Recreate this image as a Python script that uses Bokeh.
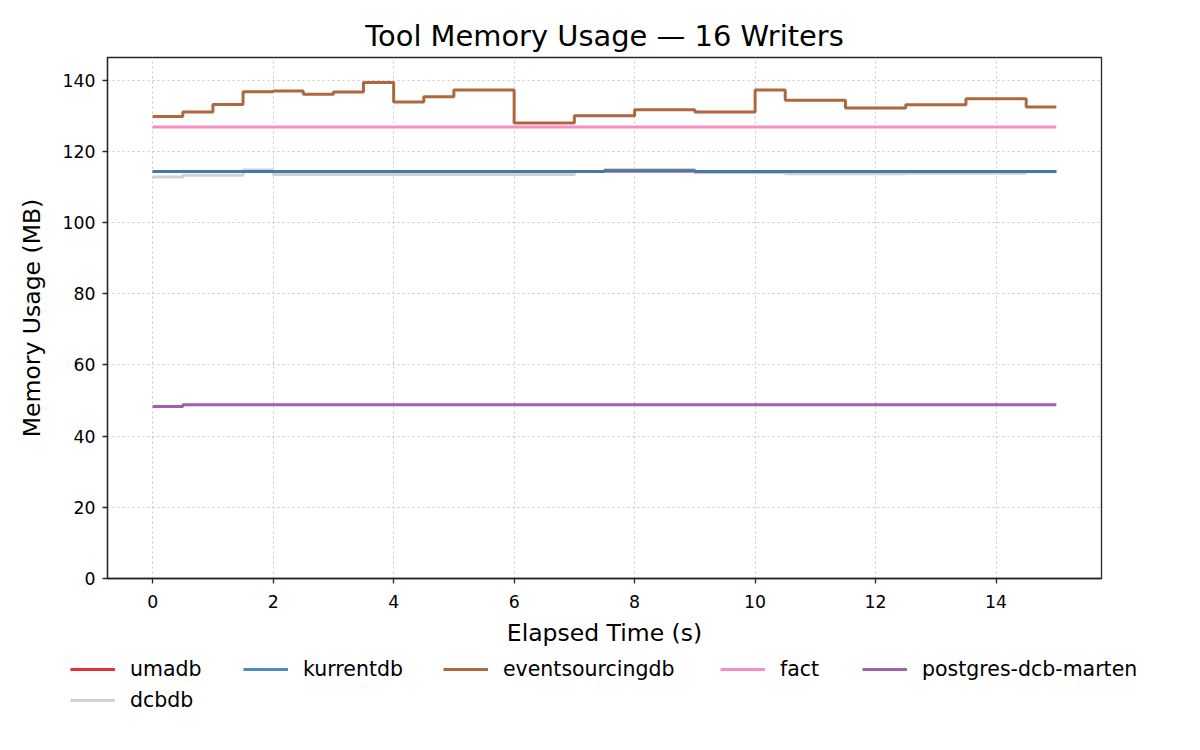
from bokeh.plotting import figure
from bokeh.models import Range1d, Legend, LegendItem, FixedTicker
from bokeh.layouts import column
from bokeh.embed import file_html
from bokeh.resources import INLINE

# sample times (s), one sample every half second
time_s = [0.0, 0.5, 1.0, 1.5, 2.0, 2.5, 3.0, 3.5, 4.0, 4.5,
          5.0, 5.5, 6.0, 6.5, 7.0, 7.5, 8.0, 8.5, 9.0, 9.5,
          10.0, 10.5, 11.0, 11.5, 12.0, 12.5, 13.0, 13.5, 14.0, 14.5, 15.0]

# memory usage (MB) per tool
umadb_mem = [114.4, 114.4, 114.4, 114.4, 114.4, 114.4, 114.4, 114.4, 114.4, 114.4,
             114.4, 114.4, 114.4, 114.4, 114.4, 114.5, 114.5, 114.5, 114.4, 114.4,
             114.4, 114.4, 114.4, 114.4, 114.4, 114.4, 114.4, 114.4, 114.4, 114.4, 114.4]
kurrentdb_mem = [114.4, 114.4, 114.4, 114.4, 114.4, 114.4, 114.4, 114.4, 114.4, 114.4,
                 114.4, 114.4, 114.4, 114.4, 114.4, 114.6, 114.6, 114.6, 114.4, 114.4,
                 114.4, 114.4, 114.4, 114.4, 114.4, 114.4, 114.4, 114.4, 114.4, 114.4, 114.4]
eventsourcingdb_mem = [129.8, 131.1, 133.2, 136.8, 137.0, 136.1, 136.7, 139.4, 133.9, 135.4,
                       137.3, 137.3, 128.0, 128.0, 130.0, 130.0, 131.7, 131.7, 131.1, 131.1,
                       137.3, 134.4, 134.4, 132.2, 132.2, 133.1, 133.1, 134.8, 134.8, 132.5, 132.5]
fact_mem = [126.9] * 31
postgres_mem = [48.3, 48.8, 48.8, 48.8, 48.8, 48.8, 48.8, 48.8, 48.8, 48.8,
                48.8, 48.8, 48.8, 48.8, 48.8, 48.8, 48.8, 48.8, 48.8, 48.8,
                48.8, 48.8, 48.8, 48.8, 48.8, 48.8, 48.8, 48.8, 48.8, 48.8, 48.8]
dcbdb_mem = [112.8, 113.3, 113.3, 114.8, 113.5, 113.5, 113.5, 113.5, 113.5, 113.5,
             113.5, 113.5, 113.5, 113.5, 114.4, 114.9, 114.9, 114.9, 114.0, 114.0,
             114.0, 113.7, 113.7, 113.7, 113.7, 113.9, 113.9, 113.9, 113.9, 114.3, 114.3]

x_ticks = [0, 2, 4, 6, 8, 10, 12, 14]
y_ticks = [0, 20, 40, 60, 80, 100, 120, 140]

# drawing order: dcbdb sits underneath the others
series = [
    ("dcbdb", dcbdb_mem, "#cccccc"),
    ("umadb", umadb_mem, "#e41a1c"),
    ("kurrentdb", kurrentdb_mem, "#377eb8"),
    ("eventsourcingdb", eventsourcingdb_mem, "#a65628"),
    ("fact", fact_mem, "#f781bf"),
    ("postgres-dcb-marten", postgres_mem, "#984ea3"),
]

FONT = "DejaVu Sans"
INK = "#262626"
LW = 3


def add_series(fig):
    rs = {}
    for name, mem, color in series:
        rs[name] = fig.step(time_s, mem, mode="after", line_width=LW, color=color, alpha=0.9)
    return rs


p = figure(width=1184, height=650, output_backend="svg", toolbar_location=None,
           title="Tool Memory Usage \u2014 16 Writers",
           x_range=Range1d(-0.75, 15.75), y_range=Range1d(0, 146.4),
           min_border_left=107, min_border_right=83, min_border_top=57, min_border_bottom=72)

p.title.align = "center"
p.title.text_font = FONT
p.title.text_font_size = "28.9px"
p.title.text_font_style = "normal"
p.title.text_color = "black"
p.title.standoff = 10

p.outline_line_color = INK
p.outline_line_width = 1.3
p.outline_line_alpha = 1

for ax in (p.xaxis, p.yaxis):
    ax.axis_line_color = INK
    ax.axis_line_width = 1.3
    ax.major_tick_line_color = INK
    ax.major_tick_line_width = 1.3
    ax.major_tick_out = 5
    ax.major_tick_in = 0
    ax.minor_tick_line_color = None
    ax.major_label_text_font = FONT
    ax.major_label_text_font_size = "17.3px"
    ax.major_label_text_color = "black"
    ax.axis_label_text_font = FONT
    ax.axis_label_text_font_size = "23.5px"
    ax.axis_label_text_font_style = "normal"
    ax.axis_label_text_color = "black"

p.xaxis.ticker = FixedTicker(ticks=x_ticks)
p.yaxis.ticker = FixedTicker(ticks=y_ticks)
p.xaxis.axis_label = "Elapsed Time (s)"
p.yaxis.axis_label = "Memory Usage (MB)"
p.xaxis.major_label_standoff = 11
p.xaxis.axis_label_standoff = 8
p.yaxis.major_label_standoff = 7
p.yaxis.axis_label_standoff = 14

p.grid.grid_line_color = "#b0b0b0"
p.grid.grid_line_alpha = 0.7
p.grid.grid_line_dash = "2 3"
p.grid.grid_line_width = 1

add_series(p)

# legend strip below the chart: same series, drawn out of view, used only for the keys
leg_fig = figure(width=1184, height=84, output_backend="svg", toolbar_location=None,
                 x_range=Range1d(-0.75, 15.75), y_range=Range1d(0, 10),
                 x_axis_location=None, y_axis_location=None,
                 min_border=0, outline_line_color=None)
leg_fig.grid.visible = False
leg_rs = add_series(leg_fig)

# keep the strip's frame full width instead of lining it up with the chart's frame
shift = 0
if "frame_align" in leg_fig.properties():
    p.frame_align = False
    leg_fig.frame_align = False
else:
    shift = -107

legend_style = dict(glyph_width=45, glyph_height=24, label_height=24, label_standoff=15,
                    spacing=7, padding=0, margin=0,
                    border_line_color=None, background_fill_alpha=0,
                    label_text_font=FONT, label_text_font_size="20.5px",
                    label_text_color="black")

# (left edge px, names in the column)
legend_columns = [
    (70, ["umadb", "dcbdb"]),
    (243, ["kurrentdb"]),
    (443, ["eventsourcingdb"]),
    (720, ["fact"]),
    (862, ["postgres-dcb-marten"]),
]
for x0, names in legend_columns:
    h = 24 * len(names) + 7 * (len(names) - 1)
    leg = Legend(items=[LegendItem(label=n, renderers=[leg_rs[n]]) for n in names],
                 location=(x0 + shift, 84 - 7 - h), orientation="vertical", **legend_style)
    leg_fig.add_layout(leg)

page = column(p, leg_fig, spacing=0)
open("out.html", "w").write(file_html(page, INLINE))
